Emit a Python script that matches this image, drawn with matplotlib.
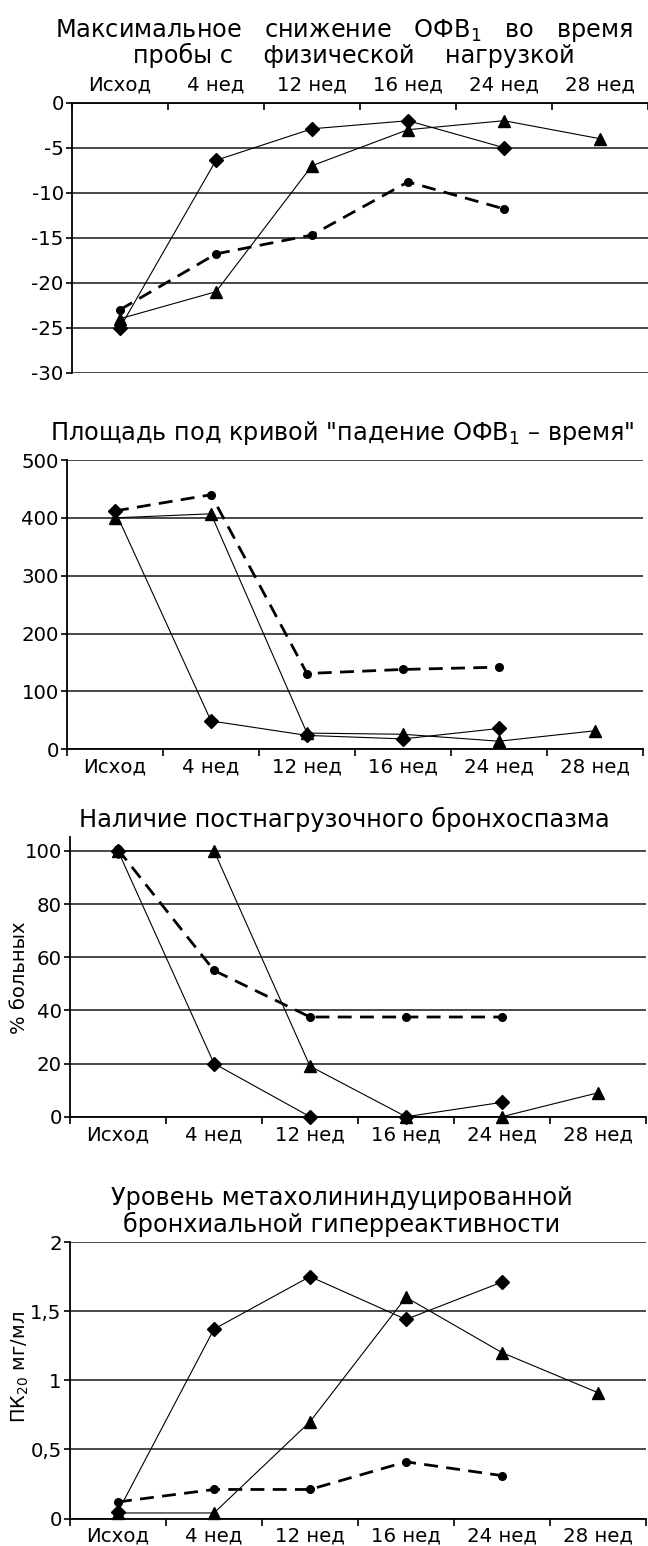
import matplotlib
matplotlib.use("Agg")
import matplotlib.pyplot as plt
from matplotlib.ticker import FixedLocator, NullFormatter, FixedFormatter

plt.rcParams['font.family'] = ['DejaVu Sans']
plt.rcParams['mathtext.fontset'] = 'dejavusans'
plt.rcParams['mathtext.default'] = 'regular'

categories = ["Исход", "4 нед", "12 нед", "16 нед", "24 нед", "28 нед"]

# Panel 1: maximal FEV1 fall during exercise test
p1_diamond = [-25, -6.4, -2.9, -2.0, -5.0, None]
p1_triangle = [-24, -21, -7, -3, -2, -4]
p1_circle = [-23, -16.8, -14.7, -8.8, -11.8, None]

# Panel 2: area under curve
p2_diamond = [412, 49, 24, 18, 36, None]
p2_triangle = [400, 407, 28, 26, 14, 32]
p2_circle = [412, 440, 131, 138, 142, None]

# Panel 3: presence of post-exercise bronchospasm (% patients)
p3_diamond = [100, 20, 0, 0, 5.4, None]
p3_triangle = [100, 100, 19, 0, 0, 9]
p3_circle = [100.5, 55, 37.5, 37.5, 37.5, None]

# Panel 4: PC20 methacholine (mg/ml)
p4_diamond = [0.05, 1.37, 1.75, 1.44, 1.71, None]
p4_triangle = [0.04, 0.04, 0.70, 1.60, 1.20, 0.91]
p4_circle = [0.12, 0.21, 0.21, 0.41, 0.31, None]

W, H = 648, 1546
fig = plt.figure(figsize=(W / 100, H / 100), dpi=100)

GRID = '#3a3a3a'
TICKFS = 14.2
TITLEFS = 17.3


def px_axes(left, right, top, bottom):
    return fig.add_axes([left / W, 1 - bottom / H, (right - left) / W, (bottom - top) / H])


def series_xy(vals):
    xs, ys = [], []
    for i, v in enumerate(vals):
        if v is not None:
            xs.append(i + 0.5)
            ys.append(v)
    return xs, ys


def draw(ax, dvals, tvals, cvals):
    x, y = series_xy(dvals)
    ax.plot(x, y, color='black', lw=0.8, marker='D', ms=7, zorder=4, clip_on=False)
    x, y = series_xy(tvals)
    ax.plot(x, y, color='black', lw=0.8, marker='^', ms=9, zorder=4, clip_on=False)
    x, y = series_xy(cvals)
    ax.plot(x, y, color='black', lw=2.0, ls=(0, (5, 3)), marker='o', ms=5.5, zorder=4,
            clip_on=False)


def style(ax, yticks, ylim, ylabels, top_axis=False):
    ax.set_xlim(0, 6)
    ax.set_ylim(*ylim)
    ax.yaxis.set_major_locator(FixedLocator(yticks))
    ax.yaxis.set_major_formatter(FixedFormatter(ylabels))
    for yv in yticks:
        ax.axhline(yv, color=GRID, lw=1.3, zorder=1)
    ax.spines['right'].set_visible(False)
    ax.spines['left'].set_linewidth(1.3)
    ax.spines['left'].set_color('black')
    ax.xaxis.set_major_locator(FixedLocator(range(0, 7)))
    ax.xaxis.set_major_formatter(NullFormatter())
    ax.xaxis.set_minor_locator(FixedLocator([i + 0.5 for i in range(6)]))
    ax.xaxis.set_minor_formatter(FixedFormatter(categories))
    ax.tick_params(axis='y', direction='out', length=4, width=1.2, labelsize=TICKFS, pad=2)
    if top_axis:
        ax.spines['bottom'].set_visible(False)
        ax.spines['top'].set_linewidth(1.3)
        ax.xaxis.set_ticks_position('top')
        ax.xaxis.set_label_position('top')
        ax.tick_params(axis='x', which='major', direction='in', length=5, width=1.2,
                       top=True, bottom=False)
        ax.tick_params(axis='x', which='minor', length=0, labelsize=TICKFS, pad=6,
                       top=True, bottom=False, labeltop=True, labelbottom=False)
    else:
        ax.spines['top'].set_visible(False)
        ax.spines['bottom'].set_linewidth(1.3)
        ax.tick_params(axis='x', which='major', direction='out', length=5, width=1.2)
        ax.tick_params(axis='x', which='minor', length=0, labelsize=TICKFS, pad=6)


# Panel 1
ax1 = px_axes(72, 648, 102.7, 372.7)
draw(ax1, p1_diamond, p1_triangle, p1_circle)
style(ax1, [0, -5, -10, -15, -20, -25, -30], (-30, 0),
      ['0', '-5', '-10', '-15', '-20', '-25', '-30'], top_axis=True)
fig.text(344 / W, 1 - 37 / H, "Максимальное   снижение   ОФВ$_1$   во   время",
         ha='center', va='baseline', fontsize=TITLEFS)
fig.text(354 / W, 1 - 63 / H, "пробы с    физической    нагрузкой",
         ha='center', va='baseline', fontsize=TITLEFS)

# Panel 2
ax2 = px_axes(67, 643, 460, 749.3)
draw(ax2, p2_diamond, p2_triangle, p2_circle)
style(ax2, [0, 100, 200, 300, 400, 500], (0, 500),
      ['0', '100', '200', '300', '400', '500'])
fig.text(342 / W, 1 - 440 / H, 'Площадь под кривой "падение ОФВ$_1$ – время"',
         ha='center', va='baseline', fontsize=TITLEFS)

# Panel 3
ax3 = px_axes(70, 646, 837, 1116.7)
draw(ax3, p3_diamond, p3_triangle, p3_circle)
style(ax3, [0, 20, 40, 60, 80, 100], (0, 105.2),
      ['0', '20', '40', '60', '80', '100'])
fig.text(344 / W, 1 - 827 / H, "Наличие постнагрузочного бронхоспазма",
         ha='center', va='baseline', fontsize=TITLEFS)
fig.text(20 / W, 1 - 978 / H, "% больных", rotation=90, ha='center', va='center',
         fontsize=14)

# Panel 4
ax4 = px_axes(70, 646, 1242, 1518.5)
draw(ax4, p4_diamond, p4_triangle, p4_circle)
style(ax4, [0, 0.5, 1, 1.5, 2], (0, 2), ['0', '0,5', '1', '1,5', '2'])
fig.text(342 / W, 1 - 1205 / H, "Уровень метахолининдуцированной",
         ha='center', va='baseline', fontsize=TITLEFS)
fig.text(342 / W, 1 - 1232 / H, "бронхиальной гиперреактивности",
         ha='center', va='baseline', fontsize=TITLEFS)
fig.text(20 / W, 1 - 1367 / H, "ПК$_{20}$ мг/мл", rotation=90, ha='center', va='center',
         fontsize=14)

fig.savefig("out.png", dpi=100)
